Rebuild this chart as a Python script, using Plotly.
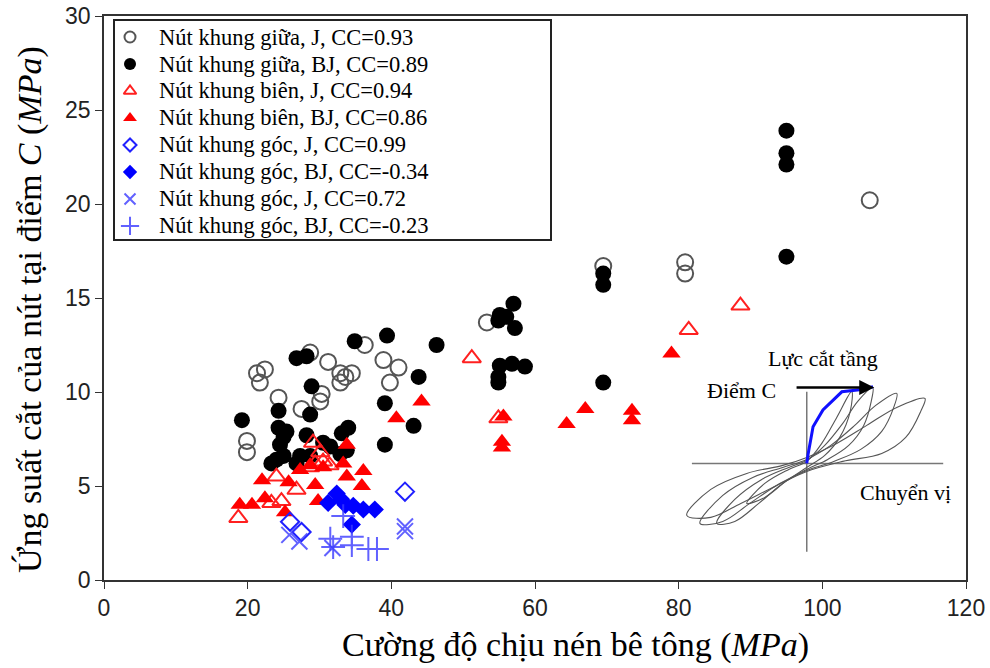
import plotly.graph_objects as go

# ---------------- data ----------------
mid_J_x = [19.9, 19.9, 21.3, 22.4, 21.7, 24.3, 27.5, 28.7, 30.3, 30.1, 31.2, 32.9, 33.6, 34.5, 32.9,
           36.3, 38.9, 41.0, 39.8, 53.3, 69.5, 80.9, 80.9, 106.6]
mid_J_y = [7.4, 6.8, 11.0, 11.2, 10.5, 9.7, 9.1, 12.1, 9.9, 9.5, 11.6, 11.0, 10.8, 11.0, 10.5,
           12.5, 11.7, 11.3, 10.5, 13.7, 16.7, 16.9, 16.3, 20.2]

mid_BJ_x = [19.2, 26.8, 28.2, 28.9, 24.3, 28.7, 24.3, 25.4, 25.0, 24.5, 24.0, 25.0, 23.3, 27.3, 26.8,
            28.2, 28.7, 30.5, 31.5, 32.9, 33.8, 34.0, 33.1, 34.9, 39.4, 46.3, 43.8, 39.1, 43.1, 39.1,
            55.1, 57.0, 54.9, 57.2, 56.0, 55.1, 56.8, 58.6, 54.9, 54.9, 69.5, 69.5, 69.5,
            95.0, 95.0, 95.0, 95.0]
mid_BJ_y = [8.5, 11.8, 11.9, 10.3, 9.0, 8.8, 8.1, 7.9, 7.6, 7.2, 6.4, 6.6, 6.2, 6.6, 6.2,
            7.7, 6.6, 7.3, 7.1, 6.7, 6.9, 8.1, 7.8, 12.7, 13.0, 12.5, 10.8, 9.4, 8.2, 7.2,
            14.1, 14.7, 13.8, 13.4, 14.0, 11.4, 11.5, 11.35, 10.8, 10.5, 16.3, 15.7, 10.5,
            23.9, 22.7, 22.1, 17.2]

edge_J_x = [18.7, 24.0, 23.3, 24.7, 26.8, 29.1, 30.1, 30.5, 31.4, 29.4, 28.7, 51.2, 54.9, 81.4, 88.6]
edge_J_y = [3.3, 5.5, 4.1, 4.2, 4.8, 7.3, 6.8, 6.3, 6.1, 6.2, 6.0, 11.8, 8.6, 13.3, 14.6]

edge_BJ_x = [18.9, 20.6, 22.0, 22.4, 25.2, 25.7, 27.3, 29.4, 29.8, 33.8, 36.1, 35.9, 33.3, 33.8, 28.7,
             30.5, 40.7, 44.2, 55.6, 55.4, 55.4, 64.4, 67.0, 73.5, 73.5, 79.0]
edge_BJ_y = [4.0, 4.0, 5.3, 4.35, 3.6, 5.2, 5.85, 5.05, 4.2, 7.2, 5.8, 5.0, 6.2, 5.5, 6.1,
             6.0, 8.6, 9.5, 8.7, 7.35, 7.05, 8.3, 9.1, 9.0, 8.5, 12.05]

corner_J_x = [25.9, 27.5, 41.9]
corner_J_y = [3.1, 2.55, 4.7]

corner_BJ_x = [31.2, 32.4, 33.0, 33.6, 34.7, 36.1, 37.7, 34.5]
corner_BJ_y = [4.1, 4.6, 4.3, 4.0, 3.95, 3.75, 3.75, 2.95]

corner_Jx_x = [25.8, 27.2, 31.8, 41.9, 41.9]
corner_Jx_y = [2.4, 2.05, 1.7, 2.85, 2.6]

corner_BJp_x = [33.3, 31.5, 34.5, 31.9, 34.5, 36.8, 38.0]
corner_BJp_y = [3.4, 2.2, 2.3, 1.75, 1.85, 1.65, 1.65]

names = [
    "Nút khung giữa, J, CC=0.93",
    "Nút khung giữa, BJ, CC=0.89",
    "Nút khung biên, J, CC=0.94",
    "Nút khung biên, BJ, CC=0.86",
    "Nút khung góc, J, CC=0.99",
    "Nút khung góc, BJ, CC=-0.34",
    "Nút khung góc, J, CC=0.72",
    "Nút khung góc, BJ, CC=-0.23",
]

x_ticks = [0, 20, 40, 60, 80, 100, 120]
y_ticks = [0, 5, 10, 15, 20, 25, 30]

# ---------------- inset (schematic hysteresis) ----------------
loop1_u = [-2.0, -1.4, -0.6, 0.0, 0.5, 1.0, 1.5, 1.45, 1.1, 0.6, 0.0, -0.7, -1.4, -2.0]
loop1_v = [-2.0, -1.0, -0.3, 0.1, 1.0, 2.3, 3.6, 2.6, 1.3, 0.4, -0.2, -0.9, -1.7, -2.0]
loop2_u = [-3.0, -2.4, -1.5, -0.6, 0.0, 0.6, 1.2, 1.7, 2.2, 2.15, 1.9, 1.4, 0.7, 0.0, -0.8, -1.6, -2.4, -3.0]
loop2_v = [-3.0, -1.8, -0.8, -0.2, 0.15, 0.9, 2.0, 3.1, 3.8, 3.1, 1.9, 0.9, 0.2, -0.3, -1.0, -2.0, -2.9, -3.0]
loop3_u = [-3.56, -2.8, -1.8, -0.8, 0.0, 0.8, 1.6, 2.3, 3.0, 2.9, 2.5, 1.8, 0.9, 0.0, -0.9, -1.9, -2.8, -3.56]
loop3_v = [-3.0, -1.6, -0.7, -0.2, 0.2, 0.9, 1.9, 2.9, 3.5, 2.8, 1.6, 0.7, 0.1, -0.35, -1.0, -2.0, -2.9, -3.0]
loop4_u = [-4.0, -3.2, -2.0, -0.8, 0.0, 1.0, 2.0, 3.0, 3.94, 3.8, 3.3, 2.5, 1.2, 0.0, -1.0, -2.2, -3.2, -4.0]
loop4_v = [-2.6, -1.3, -0.5, -0.1, 0.3, 1.0, 1.9, 2.8, 3.25, 2.6, 1.3, 0.5, 0.1, -0.4, -1.1, -2.0, -2.7, -2.6]
env_u = [0.0, 0.04, 0.21, 0.54, 1.17, 1.83, 2.21]
env_v = [0.0, 0.42, 1.83, 2.67, 3.58, 3.7, 3.83]
haxis_u = [-3.83, 4.55]
haxis_v = [0, 0]
vaxis_u = [0, 0]
vaxis_v = [-4.42, 3.58]

# ---------------- figure ----------------
fig = go.Figure()

styles = [
    (mid_J_x, mid_J_y, "circle-open", "#555555", 16, 2, 1.0, 11),
    (mid_BJ_x, mid_BJ_y, "circle", "#000000", 16, 0, 1.0, 12),
    (edge_J_x, edge_J_y, "triangle-up-open", "#ff2020", 16, 2, 1.0, 11),
    (edge_BJ_x, edge_BJ_y, "triangle-up", "#ff0000", 16, 0, 1.0, 12),
    (corner_J_x, corner_J_y, "diamond-open", "#2020ff", 14, 2, 1.0, 10),
    (corner_BJ_x, corner_BJ_y, "diamond", "#0000ff", 14, 0, 1.0, 11),
    (corner_Jx_x, corner_Jx_y, "x-thin-open", "#3a3aff", 16, 2, 0.8, 11),
    (corner_BJp_x, corner_BJp_y, "cross-thin-open", "#3a3aff", 17, 2, 0.8, 13),
]

for (xs, ys, sym, col, size, lw, op, lsize), name in zip(styles, names):
    fig.add_trace(go.Scatter(
        x=xs, y=ys, mode="markers", name=name, opacity=op, showlegend=False,
        marker=dict(symbol=sym, size=size, color=col, line=dict(width=lw, color=col)),
    ))

# inset traces
for u, v in [(haxis_u, haxis_v), (vaxis_u, vaxis_v)]:
    fig.add_trace(go.Scatter(x=u, y=v, xaxis="x2", yaxis="y2", mode="lines",
                             line=dict(color="#777777", width=1.5), showlegend=False, hoverinfo="skip"))
for u, v in [(loop1_u, loop1_v), (loop2_u, loop2_v), (loop3_u, loop3_v), (loop4_u, loop4_v)]:
    fig.add_trace(go.Scatter(x=u, y=v, xaxis="x2", yaxis="y2", mode="lines",
                             line=dict(color="#555555", width=1.1, shape="spline"),
                             showlegend=False, hoverinfo="skip"))
fig.add_trace(go.Scatter(x=env_u, y=env_v, xaxis="x2", yaxis="y2", mode="lines",
                         line=dict(color="#1010ff", width=3), showlegend=False, hoverinfo="skip"))

# custom legend: one key marker per row on a hidden helper axis
for i, (xs, ys, sym, col, size, lw, op, lsize) in enumerate(styles):
    fig.add_trace(go.Scatter(
        x=[0], y=[i], xaxis="x3", yaxis="y3", mode="markers", opacity=op, showlegend=False,
        hoverinfo="skip",
        marker=dict(symbol=sym, size=lsize, color=col, line=dict(width=lw, color=col)),
    ))

W, H = 990, 668
L, R, T, B = 104, 24, 16, 88
PW, PH = W - L - R, H - T - B

def px(xp):
    return (xp - L) / PW

def py(yp):
    return (H - B - yp) / PH

tickfont = dict(family="Liberation Sans, Arial", size=23, color="#222222")
serif = "Liberation Serif, Times New Roman, serif"

fig.update_layout(
    width=W, height=H,
    margin=dict(l=L, r=R, t=T, b=B, autoexpand=False),
    paper_bgcolor="white", plot_bgcolor="white",
    showlegend=False,
    xaxis=dict(range=[0, 120], tickvals=x_ticks, ticks="outside", ticklen=7, tickcolor="#333",
               showline=True, linecolor="#333333", linewidth=1.5, mirror=True, automargin=False,
               showgrid=False, zeroline=False, tickfont=tickfont),
    yaxis=dict(range=[0, 30], tickvals=y_ticks, ticks="outside", ticklen=7, tickcolor="#333",
               showline=True, linecolor="#333333", linewidth=1.5, mirror=True, automargin=False,
               showgrid=False, zeroline=False, tickfont=tickfont),
    xaxis2=dict(domain=[px(685), px(960)], range=[-4.06, 5.11], visible=False, anchor="y2"),
    yaxis2=dict(domain=[py(560), py(380)], range=[-4.83, 4.17], visible=False, anchor="x2"),
    xaxis3=dict(domain=[px(113), px(552)], range=[-0.63, 15.63], visible=False, anchor="y3"),
    yaxis3=dict(domain=[py(240), py(20)], range=[7.52, -0.63], visible=False, anchor="x3"),
)

# legend box
fig.add_shape(type="rect", xref="paper", yref="paper", x0=px(114), x1=px(551), y0=py(240), y1=py(20),
              line=dict(color="#222222", width=2), fillcolor="rgba(0,0,0,0)", layer="above")
for i, name in enumerate(names):
    fig.add_annotation(xref="x3", yref="y3", x=1, y=i, xanchor="left", yanchor="middle",
                       text=name, showarrow=False, font=dict(family=serif, size=22.5, color="black"))

# axis titles
fig.add_annotation(xref="paper", yref="paper", x=px(575), y=py(645), xanchor="center", yanchor="middle",
                   text="Cường độ chịu nén bê tông (<i>MPa</i>)", showarrow=False,
                   font=dict(family=serif, size=34, color="black"))
fig.add_annotation(xref="paper", yref="paper", x=px(30), y=py(310), xanchor="center", yanchor="middle",
                   text="Ứng suất cắt của nút tại điểm <i>C</i> (<i>MPa</i>)", showarrow=False, textangle=-90,
                   font=dict(family=serif, size=34, color="black"))

# inset labels and arrow
fig.add_annotation(xref="x2", yref="y2", axref="x2", ayref="y2",
                   x=2.25, y=3.8, ax=-0.39, ay=3.8, text="", showarrow=True,
                   arrowhead=2, arrowsize=1.2, arrowwidth=2.5, arrowcolor="black")
fig.add_annotation(xref="paper", yref="paper", x=px(823), y=py(358), xanchor="center", yanchor="middle",
                   text="Lực cắt tầng", showarrow=False, font=dict(family=serif, size=22, color="black"))
fig.add_annotation(xref="paper", yref="paper", x=px(778), y=py(390), xanchor="right", yanchor="middle",
                   text="Điểm C", showarrow=False, font=dict(family=serif, size=22, color="black"))
fig.add_annotation(xref="paper", yref="paper", x=px(858), y=py(492), xanchor="left", yanchor="middle",
                   text="Chuyển vị", showarrow=False, font=dict(family=serif, size=22, color="black"))

fig.write_html("out.html")
